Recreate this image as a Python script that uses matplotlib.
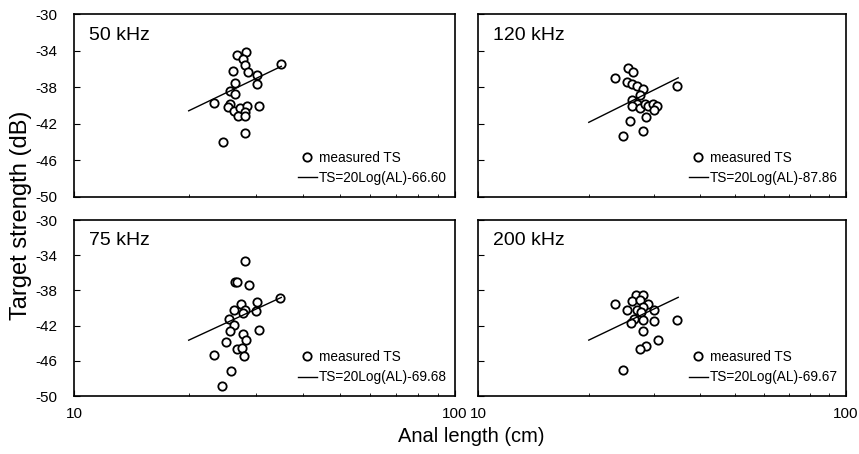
import matplotlib
matplotlib.use("Agg")
import matplotlib.pyplot as plt
import numpy as np
from matplotlib.ticker import FixedLocator, NullFormatter

plt.rcParams['font.family'] = ['Liberation Sans', 'DejaVu Sans']

# ---------------- data ----------------
freq_labels = ["50 kHz", "120 kHz", "75 kHz", "200 kHz"]
fit_labels = ["TS=20Log(AL)-66.60", "TS=20Log(AL)-87.86",
              "TS=20Log(AL)-69.68", "TS=20Log(AL)-69.67"]
fit_intercepts = [-66.60, -67.86, -69.68, -69.67]
fit_range = [20.0, 35.0]

al_50 = [26.7, 28.2, 27.8, 28.1, 28.7, 26.2, 34.9, 30.3, 30.2, 26.5, 25.7, 26.5,
         23.3, 25.6, 25.4, 26.3, 27.3, 28.4, 28.1, 27.0, 28.1, 30.5, 28.1, 24.6]
ts_50 = [-34.5, -34.2, -34.9, -35.6, -36.3, -36.2, -35.5, -36.7, -37.6, -37.5, -38.4, -38.7,
         -39.7, -39.8, -40.2, -40.6, -40.3, -40.1, -40.7, -41.2, -41.2, -40.1, -43.0, -44.0]

al_120 = [25.6, 26.4, 23.6, 25.4, 26.2, 27.1, 28.1, 27.5, 34.8, 26.2, 27.0, 26.2,
          27.5, 28.4, 29.0, 29.9, 30.6, 30.1, 28.6, 25.9, 28.0, 24.7]
ts_120 = [-35.9, -36.3, -37.0, -37.4, -37.6, -37.9, -38.2, -38.8, -37.9, -39.4, -39.8, -40.1,
          -40.3, -39.8, -40.1, -39.8, -40.1, -40.5, -41.3, -41.7, -42.8, -43.3]

al_75 = [28.1, 26.4, 26.7, 28.8, 34.7, 30.2, 27.4, 30.0, 28.1, 26.3, 27.8, 25.5,
         26.3, 25.6, 30.5, 27.7, 28.3, 25.0, 26.7, 27.6, 28.0, 23.3, 25.9, 24.5]
ts_75 = [-34.7, -37.1, -37.0, -37.4, -38.9, -39.3, -39.6, -40.3, -40.2, -40.2, -40.6, -41.2,
         -41.9, -42.6, -42.5, -43.0, -43.6, -43.9, -44.7, -44.5, -45.4, -45.3, -47.2, -48.9]

al_200 = [23.5, 26.9, 28.0, 26.2, 27.5, 29.0, 28.1, 25.4, 27.0, 30.1, 27.8, 26.5,
          26.0, 28.1, 30.1, 34.8, 28.1, 30.8, 28.6, 27.5, 24.7]
ts_200 = [-39.6, -38.5, -38.5, -39.2, -39.1, -39.6, -39.9, -40.2, -40.2, -40.2, -40.5, -41.2,
          -41.7, -41.4, -41.5, -41.4, -42.6, -43.6, -44.3, -44.7, -47.1]

series_al = [al_50, al_120, al_75, al_200]
series_ts = [ts_50, ts_120, ts_75, ts_200]

y_ticks = [-50, -46, -42, -38, -34, -30]

# ---------------- layout ----------------
W, H = 859, 454
fig = plt.figure(figsize=(W / 100, H / 100), dpi=100)

def fr(x0, x1, ytop, ybot):
    return [x0 / W, 1 - ybot / H, (x1 - x0) / W, (ybot - ytop) / H]

rects = [fr(74, 455, 14, 197), fr(478, 846, 14, 197),
         fr(74, 455, 220, 396), fr(478, 846, 220, 396)]

for i in range(4):
    ax = fig.add_axes(rects[i])
    ax.set_xscale('log')
    ax.set_xlim(10, 100)
    ax.set_ylim(-50, -30)
    for s in ax.spines.values():
        s.set_linewidth(1.2)
        s.set_color('black')

    ax.plot(series_al[i], series_ts[i], linestyle='none', marker='o',
            markersize=6, markerfacecolor='white', markeredgecolor='black',
            markeredgewidth=1.3, label='measured TS')
    xf = np.array(fit_range)
    ax.plot(xf, 20 * np.log10(xf) + fit_intercepts[i], color='black', lw=1.0,
            label=fit_labels[i])

    ax.text(0.04, 0.93, freq_labels[i], transform=ax.transAxes, fontsize=14,
            ha='left', va='top')

    ax.legend(loc='lower right', bbox_to_anchor=(1.0, 0.02), frameon=False,
              fontsize=9.8, handlelength=1.4, handletextpad=0.15,
              labelspacing=0.45, borderaxespad=0.2)

    ax.yaxis.set_major_locator(FixedLocator(y_ticks))
    ax.tick_params(axis='both', which='both', direction='in', labelsize=11)
    ax.tick_params(axis='both', which='major', length=4)
    ax.tick_params(axis='y', which='major', pad=12)
    ax.tick_params(axis='x', which='major', pad=8)
    ax.tick_params(axis='x', which='minor', length=2.5)
    ax.xaxis.set_minor_formatter(NullFormatter())
    ax.set_xticks([10, 100])
    if i >= 2:
        ax.set_xticklabels(['10', '100'])
    else:
        ax.set_xticklabels([])
    if i % 2 == 1:
        ax.set_yticklabels([])
    else:
        ax.set_yticklabels([str(t) for t in y_ticks])

fig.text(21 / W, 1 - 215 / H, 'Target strength (dB)', rotation=90, fontsize=17,
         ha='center', va='center')
fig.text(471 / W, 1 - 437 / H, 'Anal length (cm)', fontsize=14.5,
         ha='center', va='center')

fig.savefig('out.png', dpi=100)
